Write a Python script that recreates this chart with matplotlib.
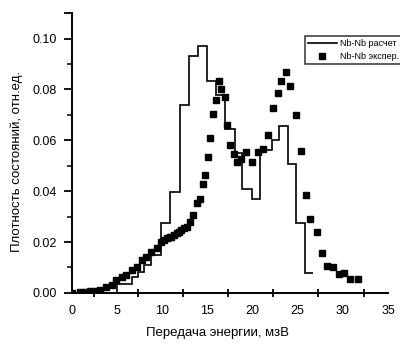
import matplotlib
matplotlib.use("Agg")
import matplotlib.pyplot as plt
from matplotlib.ticker import FixedLocator, FuncFormatter, NullFormatter

plt.rcParams['font.family'] = ['Liberation Sans', 'DejaVu Sans']

# Calculated density of states (histogram): bin edges (meV) and heights
calc_edges = [0.0, 5.0, 6.6, 7.3, 8.0, 8.8, 9.85, 10.9, 11.95, 12.98, 13.97,
              14.9, 15.9, 16.9, 18.0, 18.8, 19.9, 20.8, 22.1, 22.9, 23.9,
              24.85, 25.8, 26.7]
calc_heights = [0.0, 0.0035, 0.0062, 0.0084, 0.011, 0.015, 0.0275, 0.0396,
                0.0737, 0.093, 0.097, 0.0835, 0.078, 0.0646, 0.055, 0.041,
                0.037, 0.056, 0.060, 0.0655, 0.0506, 0.0274, 0.008]

# Experimental density of states
exp_x = [0.0, 0.9, 1.4, 2.0, 2.6, 3.1, 3.8, 4.4, 4.9, 5.5, 6.0, 6.6, 7.15,
         7.7, 8.25, 8.8, 9.4, 9.9, 10.2, 10.5, 10.8, 11.0, 11.3, 11.6, 11.9,
         12.1, 12.4, 12.7, 13.05, 13.4, 13.8, 14.16, 14.5, 14.7, 15.1, 15.3,
         15.6, 15.9, 16.25, 16.55, 16.9, 17.2, 17.55, 17.95, 18.3, 18.75,
         19.3, 19.95, 20.6, 21.1, 21.75, 22.3, 22.8, 23.1, 23.75, 24.2, 24.8,
         25.4, 25.9, 26.4, 27.1, 27.7, 28.25, 28.9, 29.6, 30.1, 30.8, 31.7]
exp_y = [0.0, 0.0002, 0.0005, 0.0008, 0.0009, 0.001, 0.0022, 0.0031, 0.005,
         0.0064, 0.007, 0.009, 0.0103, 0.0129, 0.0142, 0.0162, 0.0175, 0.0201,
         0.0208, 0.0214, 0.0218, 0.0221, 0.0228, 0.0234, 0.0241, 0.0247,
         0.0254, 0.026, 0.028, 0.0306, 0.0355, 0.037, 0.043, 0.0465, 0.0535,
         0.061, 0.0705, 0.076, 0.0835, 0.080, 0.077, 0.066, 0.058, 0.0545,
         0.0515, 0.0528, 0.0554, 0.0515, 0.0552, 0.0566, 0.062, 0.0728,
         0.0787, 0.0835, 0.0868, 0.0813, 0.0698, 0.0557, 0.0384, 0.0289,
         0.024, 0.0158, 0.0106, 0.0103, 0.0075, 0.008, 0.0054, 0.0054]

x_labels = [0, 5, 10, 15, 20, 25, 30, 35]
x_tick_marks = [2.4, 7.3, 12.3, 17.3, 22.3, 27.3, 32.3]
y_ticks = [0.0, 0.02, 0.04, 0.06, 0.08, 0.10, 0.11]
y_minor = [0.01, 0.03, 0.05, 0.07, 0.09]

fig = plt.figure(figsize=(4.0, 3.45), dpi=100)
ax = fig.add_axes([0.18, 0.151, 0.79, 0.811])

ax.stairs(calc_heights, calc_edges, baseline=None, color='black',
          linewidth=1.2, label='Nb-Nb расчет')
ax.plot(exp_x, exp_y, linestyle='none', marker='s', markersize=4.6,
        color='black', label='Nb-Nb экспер.')

ax.set_xlim(0, 35)
ax.set_ylim(0, 0.11)

for s in ['top', 'right']:
    ax.spines[s].set_visible(False)
for s in ['left', 'bottom']:
    ax.spines[s].set_linewidth(1.4)

ax.xaxis.set_major_locator(FixedLocator(x_labels))
ax.xaxis.set_minor_locator(FixedLocator(x_tick_marks))
ax.xaxis.set_minor_formatter(NullFormatter())
ax.tick_params(axis='x', which='major', length=0, pad=8.5, labelsize=9)
ax.tick_params(axis='x', which='minor', length=6, width=1.3, direction='inout')

ax.yaxis.set_major_locator(FixedLocator(y_ticks))
ax.yaxis.set_major_formatter(FuncFormatter(
    lambda v, p: '' if abs(v - 0.11) < 1e-6 else f'{v:.2f}'))
ax.yaxis.set_minor_locator(FixedLocator(y_minor))
ax.tick_params(axis='y', which='major', length=6, width=1.3, pad=4.8,
               labelsize=9)
ax.tick_params(axis='y', which='minor', length=3.6, width=1.1)

ax.set_xlabel('Передача энергии, мзВ', fontsize=9.5)
ax.xaxis.set_label_coords(0.46, -0.122)
ax.set_ylabel('Плотность состояний, отн.ед.', fontsize=9.5)
ax.yaxis.set_label_coords(-0.155, 0.47)

leg = ax.legend(loc='upper left', bbox_to_anchor=(0.737, 0.918),
                fontsize=6.5, frameon=True, fancybox=False,
                edgecolor='black', handlelength=3.2, borderpad=0.35,
                labelspacing=0.45, handletextpad=0.3, borderaxespad=0)
leg.get_frame().set_linewidth(1.1)

fig.savefig('out.png', dpi=100)
